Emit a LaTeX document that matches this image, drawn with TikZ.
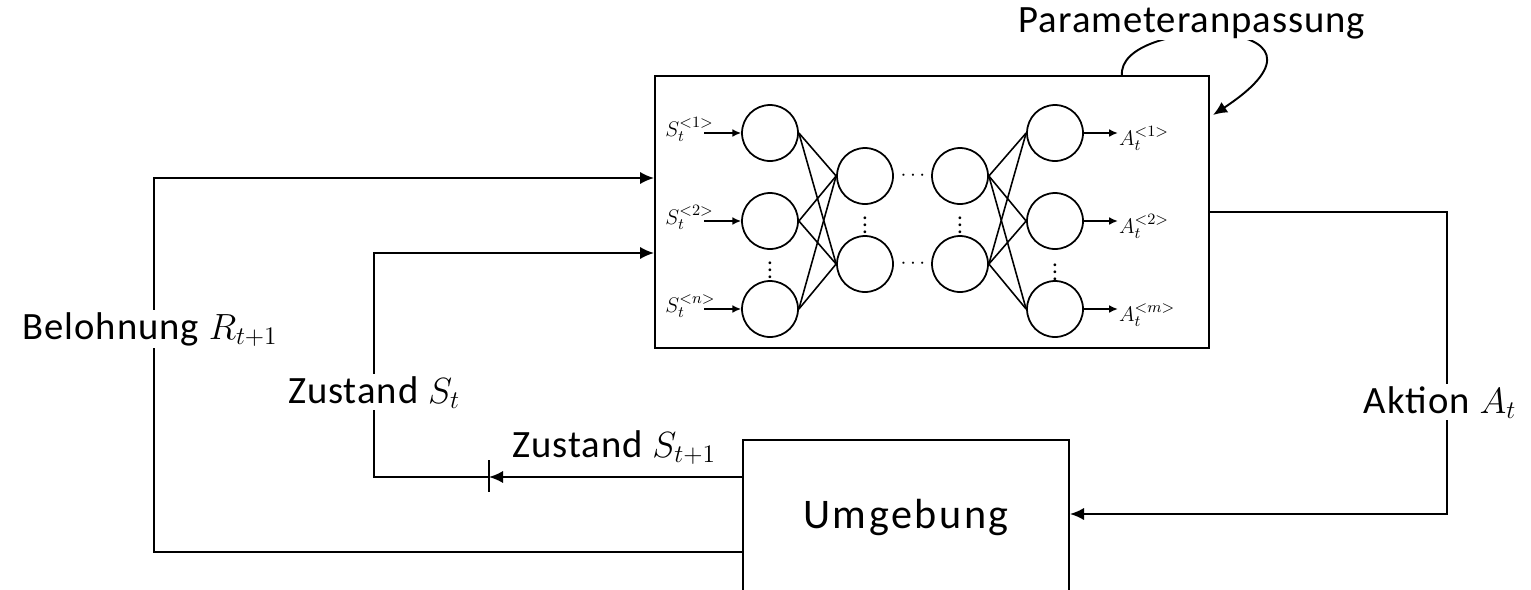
\documentclass[tikz,border=0pt]{standalone}
\usepackage{fontspec}
\setmainfont{Carlito}
\usetikzlibrary{positioning,arrows.meta,calc}

\tikzset{
  neuron/.style={draw, circle, line width=1pt, minimum size=1.12cm, inner sep=0pt},
  link/.style={line width=0.9pt},
  inarrow/.style={line width=0.9pt, -{Latex[length=5pt,width=4.5pt]}},
  sig/.style={line width=1.1pt, -{Latex[length=8pt,width=7pt]}},
  wire/.style={line width=1.1pt},
  lbl/.style={fill=white, inner sep=1pt, font=\fontsize{22}{26}\selectfont\addfontfeatures{LetterSpace=2.5}},
  small/.style={inner sep=0pt, font=\fontsize{13}{15}\selectfont},
}

\begin{document}
\begin{tikzpicture}[x=0.02cm, y=-0.02cm]
  \useasboundingbox (0,0) rectangle (1531,589);

  % Netz
  \node[draw, line width=1.1pt, minimum width=11.08cm, minimum height=5.44cm] (net) at (932,212) {};
  \node[neuron] (i1) at (770,133) {};
  \node[neuron] (i2) at (770,221) {};
  \node[neuron] (i3) at (770,309) {};
  \node[neuron] (h1) at (865,176) {};
  \node[neuron] (h2) at (865,264) {};
  \node[neuron] (g1) at (960,176) {};
  \node[neuron] (g2) at (960,264) {};
  \node[neuron] (o1) at (1055,133) {};
  \node[neuron] (o2) at (1055,221) {};
  \node[neuron] (o3) at (1055,309) {};
  \foreach \a in {i1,i2,i3}
    \foreach \b in {h1,h2}
      \draw[link] (\a.east) -- (\b.west);
  \foreach \a in {g1,g2}
    \foreach \b in {o1,o2,o3}
      \draw[link] (\a.east) -- (\b.west);
  \node[small] (vd1) at (770,265) {$\vdots$};
  \node[small] (vd2) at (865,220) {$\vdots$};
  \node[small] (vd3) at (960,220) {$\vdots$};
  \node[small] (vd4) at (1055,267) {$\vdots$};
  \node[small] (hd1) at (913,176) {$\cdots$};
  \node[small] (hd2) at (913,264) {$\cdots$};

  % Ein- und Ausgaenge
  \foreach \n/\s in {1/1,2/2,3/n} {
    \node[small, anchor=base west] (s\n) at ($(i\n.west)+(-76,3)$) {$S_t^{<\s>}$};
    \draw[inarrow] ([xshift=-0.74cm]i\n.west) -- (i\n.west);
  }
  \foreach \n/\s in {1/1,2/2,3/m} {
    \draw[inarrow] (o\n.east) -- ([xshift=0.68cm]o\n.east);
    \node[small, anchor=base west] (a\n) at ($(o\n.east)+(35,12)$) {$A_t^{<\s>}$};
  }

  % Parameteranpassung
  \coordinate (loopstart) at (1122,76);
  \coordinate (looptip) at (1213,115);
  \draw[wire, -{Latex[length=8pt,width=7pt]}] (loopstart) .. controls (1115,15) and (1365,15) .. (looptip);
  \node[lbl, anchor=base] (param) at (1192,32) {Parameteranpassung};

  % Umgebung
  \node[draw, line width=1.1pt, minimum width=6.52cm, minimum height=3.08cm,
        font=\fontsize{24}{28}\selectfont\addfontfeatures{LetterSpace=6}] (env) at (906,517) {Umgebung};

  % Belohnung
  \coordinate (rew1) at (154,552);
  \coordinate (rew2) at (154,178);
  \draw[sig] (env.west |- rew1) -- (rew1) -- (rew2) -- (net.west |- rew2);

  % Zustand
  \coordinate (bar) at (489,477);
  \coordinate (st1) at (374,477);
  \coordinate (st2) at (374,253);
  \draw[sig] (env.west |- bar) -- (bar);
  \draw[wire] ([yshift=0.34cm]bar) -- ([yshift=-0.3cm]bar);
  \draw[sig] (bar) -- (st1) -- (st2) -- (net.west |- st2);

  % Aktion
  \coordinate (act1) at (1447,212);
  \coordinate (act2) at (1447,514);
  \draw[sig] (net.east) -- (act1) -- (act2) -- (env.east |- act2);

  \node[lbl, anchor=base] (rewlbl) at (150,339) {Belohnung $R_{t+1}$};
  \node[lbl, anchor=base] (stlbl) at (374,403) {Zustand $S_t$};
  \node[lbl, anchor=base] (st1lbl) at (614,457) {Zustand $S_{t+1}$};
  \node[lbl, anchor=base] (actlbl) at (1440,413) {Aktion $A_t$};
\end{tikzpicture}
\end{document}
